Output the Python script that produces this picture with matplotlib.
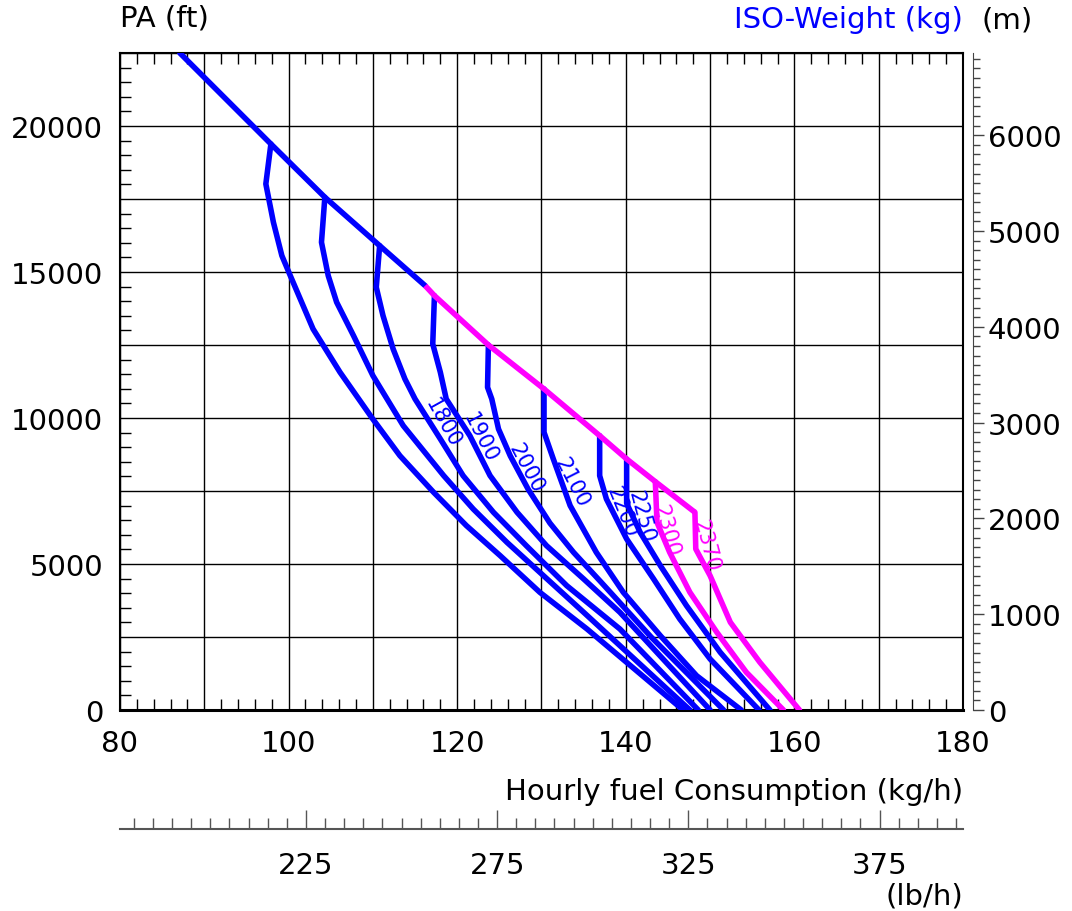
import numpy as np
import matplotlib.pyplot as plt
from matplotlib.ticker import MultipleLocator, FuncFormatter

# fuel flow (kg/h) vs pressure altitude (ft)
# envelope line (max altitude), blue part then magenta part
env_blue_kg = [87.1, 97.9, 104.3, 110.8, 116.2]
env_blue_ft = [22500, 19384, 17560, 15902, 14531]
env_mag_kg = [116.2, 117.3, 123.7, 130.3, 136.9, 140.1, 143.5, 148.2]
env_mag_ft = [14531, 14190, 12500, 10994, 9395, 8597, 7820, 6771]

# iso-weight curves (first two carry no label on the chart)
c1_kg = [97.9, 97.3, 98.2, 99.2, 100.2, 102.9, 106.1, 109.9, 113.2, 117.2, 121.1, 125.1, 129.8, 135.4, 146.8]
c1_ft = [19384, 18015, 16700, 15560, 14875, 13050, 11566, 10000, 8710, 7456, 6312, 5285, 4031, 2774, 0]
c2_kg = [104.3, 103.9, 104.7, 105.7, 107.7, 110.0, 113.6, 118.4, 121.9, 125.9, 129.8, 135.0, 147.6]
c2_ft = [17560, 16018, 14875, 13964, 12820, 11450, 9737, 8025, 6884, 5742, 4715, 3346, 0]
c3_kg = [110.8, 110.4, 111.2, 112.4, 113.8, 115.0, 118.0, 120.7, 124.3, 128.2, 133.0, 139.3, 148.6]
c3_ft = [15902, 14477, 13505, 12364, 11336, 10652, 9282, 8025, 6771, 5627, 4257, 2774, 0]
c4_kg = [117.3, 117.1, 118.0, 118.7, 121.5, 123.9, 127.1, 130.6, 135.0, 139.3, 150.0]
c4_ft = [14190, 12535, 11566, 10652, 9394, 8025, 6771, 5627, 4487, 3346, 0]
c5_kg = [123.7, 123.6, 124.1, 124.9, 126.3, 128.4, 131.0, 133.8, 137.0, 143.0, 151.6]
c5_ft = [12500, 11052, 10652, 9624, 8700, 7569, 6400, 5400, 4400, 2500, 0]
c6_kg = [130.3, 130.3, 131.4, 133.4, 136.5, 139.7, 144.1, 148.4, 153.7]
c6_ft = [10994, 9511, 8597, 6998, 5400, 4031, 2545, 1175, 0]
c7_kg = [136.9, 136.9, 137.7, 140.1, 143.3, 146.4, 150.0, 155.8]
c7_ft = [9395, 8025, 7227, 5857, 4487, 3117, 1747, 0]
c8_kg = [140.1, 140.1, 141.7, 144.1, 147.2, 151.2, 157.1]
c8_ft = [8597, 7079, 6086, 4943, 3573, 1976, 0]
c9_kg = [143.5, 143.7, 145.2, 147.6, 150.8, 154.3, 158.7]
c9_ft = [7820, 6429, 5401, 4031, 2661, 1291, 0]
c10_kg = [148.2, 148.3, 150.0, 152.4, 155.9, 160.6]
c10_ft = [6771, 5514, 4600, 3004, 1634, 0]

weights = [None, None, "1800", "1900", "2000", "2100", "2200", "2250", "2300", "2370"]
label_kg = [None, None, 118.3, 122.7, 128.2, 133.6, 139.6, 141.8, 144.8, 149.5]
label_ft = [None, None, 9850, 9340, 8311, 7798, 6792, 6655, 6175, 5651]
label_rot = [0, 0, -61, -63, -62, -63, -68, -75, -75, -75]

BLUE = "#0000ff"
MAG = "#ff00ff"
curves = [(c1_kg, c1_ft, BLUE), (c2_kg, c2_ft, BLUE), (c3_kg, c3_ft, BLUE),
          (c4_kg, c4_ft, BLUE), (c5_kg, c5_ft, BLUE), (c6_kg, c6_ft, BLUE),
          (c7_kg, c7_ft, BLUE), (c8_kg, c8_ft, BLUE), (c9_kg, c9_ft, MAG),
          (c10_kg, c10_ft, MAG)]

FS = 21
LW = 4.0
FT2M = 0.3048
KG2LB = 2.20462

fig = plt.figure(figsize=(10.72, 9.12), dpi=100)
ax = fig.add_axes([120 / 1072, 1 - 711 / 912, 843 / 1072, 657 / 912])

for (xs, ys, col), w, lx, ly, rot in zip(curves, weights, label_kg, label_ft, label_rot):
    ax.plot(xs, ys, color=col, lw=LW, solid_capstyle="round", solid_joinstyle="round", zorder=3)
    if w is not None:
        ax.text(lx, ly, w, color=col, fontsize=15, rotation=rot,
                ha="center", va="center", rotation_mode="anchor", zorder=4)

ax.plot(env_blue_kg, env_blue_ft, color=BLUE, lw=LW, solid_capstyle="round", zorder=3)
ax.plot(env_mag_kg, env_mag_ft, color=MAG, lw=LW, solid_capstyle="butt", zorder=3)

ax.set_xlim(80, 180)
ax.set_ylim(0, 22500)
ax.xaxis.set_major_locator(MultipleLocator(10))
ax.xaxis.set_minor_locator(MultipleLocator(2))
ax.yaxis.set_major_locator(MultipleLocator(2500))
ax.yaxis.set_minor_locator(MultipleLocator(500))
ax.xaxis.set_major_formatter(FuncFormatter(lambda v, p: f"{v:.0f}" if round(v) % 20 == 0 else ""))
ax.yaxis.set_major_formatter(FuncFormatter(lambda v, p: f"{v:.0f}" if round(v) % 5000 == 0 else ""))
ax.grid(True, which="major", color="black", lw=1.0)
ax.set_axisbelow(True)
ax.tick_params(which="both", direction="in", top=True, right=True, labelsize=FS, color="black")
ax.tick_params(axis="x", which="major", length=0, pad=14)
ax.tick_params(axis="y", which="major", length=0, pad=12)
ax.tick_params(which="minor", length=8, width=1)
for s in ["left", "top", "right"]:
    ax.spines[s].set_linewidth(1.5)
ax.spines["bottom"].set_linewidth(2.2)

# altitude in metres on an offset right axis
ax2 = ax.twinx()
ax2.set_ylim(0, 22500 * FT2M)
for s in ["left", "top", "bottom"]:
    ax2.spines[s].set_visible(False)
ax2.spines["right"].set_position(("outward", 7))
ax2.spines["right"].set_color("#444444")
ax2.yaxis.set_major_locator(MultipleLocator(1000))
ax2.yaxis.set_minor_locator(MultipleLocator(100))
ax2.tick_params(which="major", direction="out", length=8, width=1, pad=3, labelsize=FS, color="#444444")
ax2.tick_params(which="minor", direction="out", length=5, width=1, color="#444444")

# fuel flow in lb/h below the plot
sec = ax.secondary_xaxis(-0.181, functions=(lambda x: x * KG2LB, lambda x: x / KG2LB))
sec.set_xticks([225, 275, 325, 375])
sec.xaxis.set_minor_locator(MultipleLocator(5))
sec.spines["bottom"].set_color("#555555")
sec.spines["bottom"].set_linewidth(1.5)
sec.tick_params(which="major", direction="in", length=14, width=1, pad=16, labelsize=FS, color="#555555")
sec.tick_params(which="minor", direction="in", length=8, width=1, color="#555555")

fig.text(120 / 1072, 1 - 18 / 912, "PA (ft)", fontsize=FS, ha="left", va="center")
fig.text(963 / 1072, 1 - 20 / 912, "ISO-Weight (kg)", fontsize=FS, color=BLUE, ha="right", va="center")
fig.text(1007 / 1072, 1 - 20 / 912, "(m)", fontsize=FS, ha="center", va="center")
fig.text(963 / 1072, 1 - 792 / 912, "Hourly fuel Consumption (kg/h)", fontsize=FS, ha="right", va="center")
fig.text(963 / 1072, 1 - 897 / 912, "(lb/h)", fontsize=FS, ha="right", va="center")

fig.savefig("out.png", dpi=100)
